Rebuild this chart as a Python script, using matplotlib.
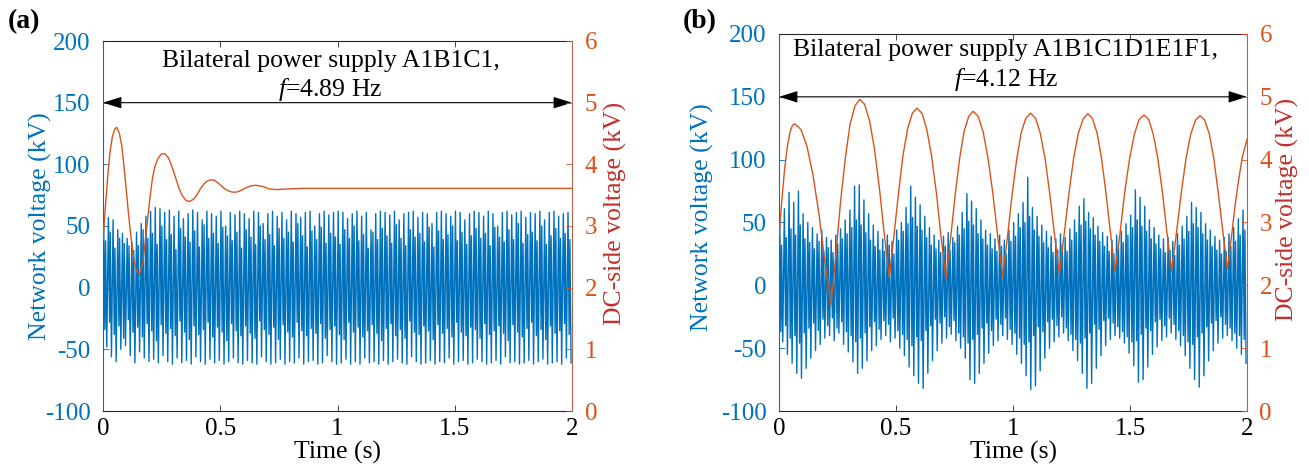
import numpy as np
import matplotlib
matplotlib.use("Agg")
import matplotlib.pyplot as plt

plt.rcParams['font.family'] = ['Liberation Serif', 'DejaVu Serif']
plt.rcParams['mathtext.fontset'] = 'custom'
plt.rcParams['mathtext.rm'] = 'Liberation Serif'
plt.rcParams['mathtext.it'] = 'Liberation Serif:italic'

BLUE = '#0072BD'
ORANGE = '#D95319'
DARKRED = '#C0302A'
AXIS_GREY = '#262626'

# ---------------- data ----------------
x_ticks = [0, 0.5, 1, 1.5, 2]
x_tick_labels = ['0', '0.5', '1', '1.5', '2']
left_ticks = [-100, -50, 0, 50, 100, 150, 200]
right_ticks = [0, 1, 2, 3, 4, 5, 6]
grid_period = 0.02   # one network-voltage cycle (50 Hz)

# (a) network voltage, per cycle: main peak, dip, secondary peak, main trough (kV)
net_a_peak = [51, 57, 55, 47, 44, 40, 37, 45, 52, 58,
              62, 65, 64, 61, 63, 58, 62, 56, 60, 63,
              61, 55, 62, 60, 58, 62, 50, 61, 59, 62,
              60, 56, 62, 61, 52, 60, 62, 58, 61, 55,
              62, 60, 57, 61, 62, 50, 60, 62, 59, 61,
              62, 61, 56, 60, 62, 58, 61, 47, 60, 62,
              61, 59, 62, 55, 60, 61, 62, 57, 61, 60,
              52, 61, 62, 60, 58, 62, 61, 55, 60, 62,
              61, 58, 62, 60, 50, 61, 62, 59, 61, 62,
              57, 61, 60, 62, 55, 61, 62, 58, 60, 61]
net_a_dip = [-34, -28, -38, -31, -41, -26, -36, -32, -40, -29,
             -35, -43, -30, -37, -33, -39, -27, -36, -42, -31,
             -38, -34, -28, -40, -32, -36, -43, -29, -35, -39,
             -31, -37, -41, -27, -34, -38, -32, -42, -30, -36,
             -40, -28, -35, -39, -33, -37, -29, -41, -34, -31,
             -38, -42, -28, -36, -32, -40, -35, -30, -37, -43,
             -33, -29, -39, -34, -41, -27, -36, -38, -31, -35,
             -42, -30, -37, -33, -40, -28, -36, -39, -32, -34,
             -41, -29, -38, -35, -31, -37, -43, -30, -36, -40,
             -33, -28, -39, -34, -42, -31, -37, -35, -29, -38]
net_a_second = [38, 45, 32, 40, 36, 34, 30, 34, 47, 40,
                44, 35, 50, 39, 43, 31, 48, 41, 37, 46,
                33, 51, 40, 44, 36, 49, 42, 38, 45, 32,
                47, 41, 35, 50, 39, 43, 34, 48, 40, 45,
                37, 52, 42, 33, 46, 39, 49, 36, 44, 41,
                35, 47, 40, 50, 38, 43, 32, 45, 39, 48,
                42, 36, 51, 40, 34, 47, 41, 44, 37, 49,
                33, 46, 39, 43, 50, 38, 45, 35, 42, 48,
                40, 44, 34, 49, 41, 37, 47, 39, 52, 36,
                43, 45, 38, 50, 35, 42, 48, 40, 44, 39]
net_a_trough = [-48, -56, -60, -50, -47, -55, -61, -52, -57, -60,
                -58, -61, -55, -60, -62, -57, -61, -59, -62, -56,
                -60, -62, -58, -61, -59, -62, -60, -57, -61, -62,
                -59, -61, -62, -56, -60, -62, -61, -58, -62, -60,
                -61, -57, -62, -60, -59, -62, -61, -55, -60, -62,
                -61, -58, -62, -60, -62, -57, -61, -60, -62, -59,
                -62, -60, -58, -61, -62, -56, -60, -62, -61, -59,
                -62, -60, -61, -57, -62, -60, -59, -62, -61, -58,
                -60, -62, -61, -59, -62, -56, -61, -60, -62, -61,
                -59, -62, -60, -58, -62, -61, -60, -62, -57, -61]

# (a) DC-side voltage (kV)
dc_a_time = [0, 0.01, 0.02, 0.03, 0.04, 0.05, 0.058, 0.07, 0.08, 0.09,
             0.10, 0.11, 0.12, 0.13, 0.14, 0.155, 0.17, 0.18, 0.19, 0.20,
             0.21, 0.22, 0.235, 0.25, 0.265, 0.28, 0.295, 0.31, 0.325, 0.34,
             0.355, 0.37, 0.385, 0.40, 0.415, 0.43, 0.445, 0.46, 0.475, 0.49,
             0.505, 0.52, 0.535, 0.55, 0.57, 0.59, 0.61, 0.63, 0.65, 0.67,
             0.69, 0.71, 0.74, 0.78, 0.85, 1.0, 1.5, 2.0]
dc_a_value = [2.77, 3.30, 3.80, 4.20, 4.45, 4.57, 4.60, 4.50, 4.30, 3.95,
              3.55, 3.15, 2.80, 2.50, 2.30, 2.22, 2.40, 2.75, 3.10, 3.45,
              3.75, 3.95, 4.10, 4.17, 4.17, 4.10, 3.95, 3.78, 3.60, 3.48,
              3.41, 3.40, 3.43, 3.50, 3.60, 3.68, 3.73, 3.75, 3.74, 3.70,
              3.65, 3.60, 3.57, 3.55, 3.55, 3.58, 3.62, 3.65, 3.66, 3.65,
              3.63, 3.60, 3.59, 3.60, 3.61, 3.61, 3.61, 3.61]

# (b) network voltage, per cycle: main peak, dip, secondary peak, main trough (kV)
net_b_peak = [58, 61, 74, 66, 75, 57, 50, 46, 41, 44,
              38, 36, 40, 45, 52, 60, 79, 80, 68, 57, 48, 43,
              37, 40, 35, 44, 50, 62, 79, 70, 64, 55, 46, 40,
              36, 39, 42, 38, 47, 58, 73, 67, 61, 52, 44, 41, 37,
              40, 36, 44, 50, 57, 66, 86, 62, 55, 48, 43, 39,
              37, 41, 38, 45, 52, 63, 69, 58, 54, 47, 42, 39,
              36, 40, 43, 49, 56, 76, 70, 63, 52, 46, 40, 37,
              38, 35, 41, 47, 55, 66, 62, 58, 49, 44, 39, 36,
              38, 41, 46, 53, 60]
net_b_dip = [-37, -32, -42, -40, -46, -38, -34, -30, -36, -27,
             -32, -26, -34, -29, -37, -40, -45, -42, -38, -33, -29, -35,
             -28, -31, -26, -36, -39, -43, -48, -41, -44, -36, -32, -27,
             -30, -25, -33, -28, -38, -41, -46, -43, -39, -34, -30, -36, -27,
             -31, -26, -35, -38, -42, -47, -45, -40, -33, -37, -29, -27,
             -32, -25, -34, -39, -43, -46, -42, -38, -31, -35, -28, -26,
             -30, -33, -37, -41, -45, -44, -39, -34, -36, -29, -27, -32,
             -26, -31, -36, -40, -45, -47, -41, -38, -33, -30, -28, -25,
             -31, -34, -38, -40, -43]
net_b_second = [32, 38, 45, 40, 48, 37, 34, 29, 35, 27,
                30, 26, 33, 37, 41, 46, 52, 48, 42, 36, 31, 28,
                27, 32, 25, 36, 43, 49, 54, 47, 44, 38, 32, 29,
                26, 31, 28, 34, 40, 45, 51, 48, 41, 37, 32, 29, 27,
                31, 25, 35, 39, 46, 50, 55, 44, 39, 34, 30, 26,
                28, 32, 27, 36, 42, 48, 51, 45, 40, 35, 31, 27,
                25, 30, 34, 40, 46, 52, 47, 43, 37, 33, 29, 26,
                28, 24, 32, 37, 43, 49, 46, 41, 36, 31, 28, 25,
                27, 31, 35, 40, 44]
net_b_trough = [-45, -55, -62, -70, -74, -66, -58, -52, -47, -42,
                -40, -44, -38, -47, -53, -61, -70, -66, -60, -52, -48, -43,
                -40, -45, -42, -50, -56, -65, -72, -78, -82, -70, -60, -52,
                -46, -42, -39, -44, -50, -58, -75, -78, -70, -62, -54, -48, -44,
                -40, -43, -47, -55, -62, -72, -83, -80, -68, -58, -50, -45,
                -41, -38, -44, -52, -60, -70, -82, -78, -66, -56, -48, -43,
                -40, -42, -46, -54, -64, -77, -75, -65, -55, -49, -44, -41,
                -38, -43, -48, -56, -66, -75, -81, -72, -60, -52, -46, -42,
                -40, -44, -50, -55, -62]

# (b) DC-side voltage (kV)
dc_b_time = [0, 0.012, 0.024, 0.036, 0.048, 0.058, 0.068,
             0.094, 0.119, 0.145, 0.171, 0.196, 0.222,
             0.243, 0.263, 0.284, 0.304, 0.325, 0.345,
             0.366, 0.387, 0.408, 0.429, 0.450, 0.471,
             0.491, 0.511, 0.530, 0.550, 0.570, 0.590,
             0.611, 0.631, 0.652, 0.673, 0.693, 0.714,
             0.733, 0.753, 0.772, 0.791, 0.811, 0.830,
             0.851, 0.872, 0.893, 0.914, 0.935, 0.956,
             0.976, 0.996, 1.016, 1.035, 1.055, 1.075,
             1.096, 1.116, 1.137, 1.157, 1.178, 1.198,
             1.218, 1.239, 1.259, 1.279, 1.300, 1.320,
             1.339, 1.359, 1.378, 1.397, 1.417, 1.436,
             1.457, 1.477, 1.498, 1.519, 1.539, 1.560,
             1.580, 1.599, 1.619, 1.639, 1.658, 1.678,
             1.698, 1.719, 1.739, 1.759, 1.780, 1.800,
             1.819, 1.839, 1.858, 1.877, 1.897, 1.916,
             1.932, 1.948, 1.964, 1.980, 2.000]
dc_b_value = [2.78, 3.35, 3.85, 4.22, 4.45, 4.55, 4.57,
              4.48, 4.22, 3.76, 3.13, 2.38, 1.69,
              2.48, 3.33, 4.04, 4.57, 4.86, 4.96,
              4.88, 4.62, 4.17, 3.55, 2.81, 2.13,
              2.78, 3.48, 4.07, 4.50, 4.74, 4.82,
              4.74, 4.49, 4.06, 3.46, 2.75, 2.10,
              2.74, 3.44, 4.02, 4.45, 4.69, 4.77,
              4.69, 4.45, 4.03, 3.46, 2.77, 2.14,
              2.76, 3.44, 4.01, 4.43, 4.66, 4.74,
              4.66, 4.43, 4.02, 3.46, 2.79, 2.18,
              2.79, 3.46, 4.02, 4.42, 4.65, 4.73,
              4.66, 4.43, 4.03, 3.48, 2.82, 2.22,
              2.82, 3.47, 4.01, 4.41, 4.64, 4.71,
              4.64, 4.41, 4.02, 3.47, 2.83, 2.23,
              2.82, 3.47, 4.01, 4.40, 4.63, 4.70,
              4.63, 4.41, 4.02, 3.48, 2.85, 2.26,
              2.72, 3.24, 3.67, 4.04, 4.32]

panels = [
    dict(tag='(a)', cycles=(net_a_peak, net_a_dip, net_a_second, net_a_trough),
         dc_t=dc_a_time, dc_v=dc_a_value,
         line1='Bilateral power supply A1B1C1,', line2=r'$f$=4.89 Hz',
         note_y=(183.5, 160.5), left_pad=-5, right_pad=5,
         left_y=0.50, right_y=0.535,
         rect=[103 / 1309, 57 / 468, 469 / 1309, 370 / 468]),
    dict(tag='(b)', cycles=(net_b_peak, net_b_dip, net_b_second, net_b_trough),
         dc_t=dc_b_time, dc_v=dc_b_value,
         line1='Bilateral power supply A1B1C1D1E1F1,', line2=r'$f$=4.12 Hz',
         note_y=(187.0, 164.0), left_pad=5, right_pad=3,
         left_y=0.515, right_y=0.535,
         rect=[779 / 1309, 57 / 468, 468 / 1309, 377 / 468]),
]

# where each of the four per-cycle extrema sits inside a cycle
cycle_phase = [0.15, 0.40, 0.55, 0.80]


def cycle_series(extrema, period):
    """Lay the per-cycle extrema out in time order."""
    n = len(extrema[0])
    k = np.arange(n)
    m = len(extrema)
    t = np.empty(m * n)
    v = np.empty(m * n)
    for j, (ph, vals) in enumerate(zip(cycle_phase, extrema)):
        t[j::m] = (k + ph) * period
        v[j::m] = vals
    return t, v


fig = plt.figure(figsize=(13.09, 4.68), dpi=100)

TICK_FS = 18
LABEL_FS = 18.5
NOTE_FS = 18.5

for p in panels:
    ax = fig.add_axes(p['rect'])
    ax2 = ax.twinx()

    t, v = cycle_series(p['cycles'], grid_period)
    ax.plot(t, v, color=BLUE, lw=1.0)
    ax2.plot(p['dc_t'], p['dc_v'], color=ORANGE, lw=1.0)

    ax.set_xlim(0, 2)
    ax.set_ylim(-100, 200)
    ax2.set_ylim(0, 6)
    ax.set_xticks(x_ticks)
    ax.set_xticklabels(x_tick_labels)
    ax.set_yticks(left_ticks)
    ax.set_yticklabels([str(v) for v in left_ticks])
    ax2.set_yticks(right_ticks)

    ax.tick_params(axis='x', direction='in', top=True, length=4, width=0.6,
                   labelsize=TICK_FS, pad=5, colors='black', color=AXIS_GREY)
    ax.tick_params(axis='y', direction='in', length=4, width=0.6,
                   labelsize=TICK_FS, pad=9, colors=BLUE)
    ax2.tick_params(axis='y', direction='in', length=4, width=0.6,
                    labelsize=TICK_FS, pad=9, colors=ORANGE)

    for s in ('top', 'bottom'):
        ax.spines[s].set_color(AXIS_GREY)
        ax.spines[s].set_linewidth(0.8)
        ax2.spines[s].set_visible(False)
    ax.spines['left'].set_color(BLUE)
    ax.spines['left'].set_linewidth(0.8)
    ax.spines['right'].set_visible(False)
    ax2.spines['left'].set_visible(False)
    ax2.spines['right'].set_color('#B8614A')
    ax2.spines['right'].set_linewidth(0.8)

    ax.set_xlabel('Time (s)', fontsize=LABEL_FS, labelpad=1)
    ax.set_ylabel('Network voltage (kV)', fontsize=LABEL_FS, color=BLUE,
                  labelpad=p['left_pad'], y=p['left_y'])
    ax2.set_ylabel('DC-side voltage (kV)', fontsize=LABEL_FS, color=DARKRED,
                   labelpad=p['right_pad'], y=p['right_y'])

    ax.annotate('', xy=(2, 150), xytext=(0, 150),
                arrowprops=dict(arrowstyle='<|-|>,head_length=1.15,head_width=0.36',
                                color='black', lw=0.8, mutation_scale=10,
                                shrinkA=0, shrinkB=0))
    ax.text(0.97, p['note_y'][0], p['line1'], fontsize=NOTE_FS, ha='center', va='center')
    ax.text(0.97, p['note_y'][1], p['line2'], fontsize=NOTE_FS, ha='center', va='center')

    fig.text(p['rect'][0] - 79 / 1309, 1 - 22 / 468, p['tag'], fontsize=20,
             fontweight='bold', ha='center', va='center')

fig.savefig('out.png', dpi=100)
